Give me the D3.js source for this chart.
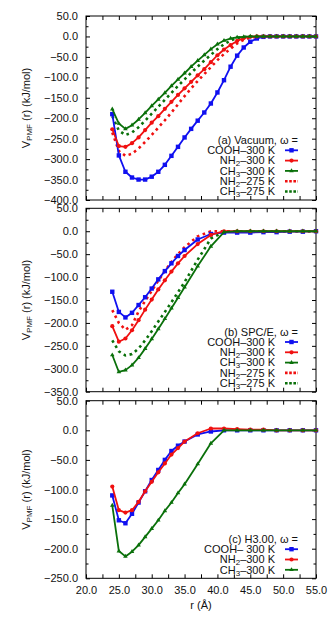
<!DOCTYPE html>
<html>
<head>
<meta charset="utf-8">
<script src="https://cdn.jsdelivr.net/npm/d3@7"></script>
<style>
  body { margin: 0; background: #fff; }
  svg { display: block; font-family: "Liberation Sans", Arial, sans-serif; }
</style>
</head>
<body>
<svg id="chart" width="334" height="631"></svg>
<script>
// r grid (Angstrom) for each panel
var rVacuum = [24,25,26,27,28,29,30,31,32,33,34,35,36,37,38,39,40,41,42,43,44,45,46,47,48,49,50,51,52,53,54,55];
var rWater  = [24,25,26,27,28,29,30,31,32,33,34,35,37,39,41,43,45,47,49,51,53,55];

// (a) Vacuum
var vacCOOH300 = [-190,-291,-331,-345,-350,-350,-343,-331,-314,-292,-270,-247,-226,-206,-186,-164,-137,-107,-74,-47,-27,-13,-5,-1,0,0,0,0,0,0,0,0];
var vacNH2300  = [-227,-268,-270,-261,-247,-229,-211,-195,-177,-160,-143,-127,-111,-95,-80,-63,-46,-32,-21,-11,-4,-1,0,0,0,0,0,0,0,0,0,0];
var vacCH3300  = [-178,-213,-226,-217,-203,-187,-170,-154,-138,-121,-105,-90,-74,-59,-45,-31,-19,-10,-5,-2,-1,0,0,0,0,0,0,0,0,0,0,0];
var vacNH2275  = [-235,-280,-292,-287,-274,-258,-241,-223,-205,-186,-166,-146,-127,-109,-92,-75,-58,-43,-30,-17,-8,-3,-1,0,0,0,0,0,0,0,0,0];
var vacCH3275  = [-195,-230,-241,-235,-222,-206,-189,-172,-155,-138,-121,-105,-89,-74,-59,-45,-31,-19,-10,-4,-1,0,0,0,0,0,0,0,0,0,0,0];

// (b) SPC/E
var spcCOOH300 = [-132,-176,-188,-178,-161,-144,-125,-105,-87,-70,-54,-41,-18,-6,-3,-3,-3,-2,-2,-1,-1,0];
var spcNH2300  = [-207,-241,-234,-216,-194,-171,-149,-127,-107,-88,-70,-54,-28,-8,0,0,0,0,0,0,0,0];
var spcCH3300  = [-270,-307,-303,-292,-276,-256,-235,-213,-191,-168,-145,-122,-76,-33,-2,0,0,0,0,0,0,0];
var spcNH2275  = [-172,-200,-215,-205,-175,-152,-130,-108,-87,-67,-50,-35,-11,0,0,0,0,0,0,0,0,0];
var spcCH3275  = [-238,-262,-271,-268,-256,-238,-218,-197,-176,-155,-133,-111,-62,-16,-1,0,0,0,0,0,0,0];

// (c) H3.00
var h3COOH300 = [-110,-152,-157,-141,-122,-103,-84,-67,-50,-35,-26,-19,-7,-2,0,0,0,0,0,0,0,0];
var h3NH2300  = [-95,-135,-139,-135,-121,-103,-87,-71,-56,-41,-30,-19,-5,3,3,2,1,1,0,0,0,0];
var h3CH3300  = [-127,-204,-213,-205,-194,-180,-166,-152,-136,-122,-106,-91,-57,-22,0,0,0,0,0,0,0,0];

// tick values
var xTicks = [20,25,30,35,40,45,50,55];
var xMinor = [22.5,27.5,32.5,37.5,42.5,47.5,52.5];

// labels: odd parts are subscripts
var labCOOH = ["COOH\u2013300 K"];
var labCOOHc = ["COOH\u2013 300 K"];
var labNH2300 = ["NH", "2", "\u2013300 K"];
var labCH3300 = ["CH", "3", "\u2013300 K"];
var labNH2275 = ["NH", "2", "\u2013275 K"];
var labCH3275 = ["CH", "3", "\u2013275 K"];

var blue = "#1010f0", red = "#f01010", green = "#0a700a";

var panels = [
  {title: "(a) Vacuum, \u03c9 =", top: 16, bottom: 200, yMin: -400, r: rVacuum, series: [
    {lab: labCOOH, color: blue, marker: "square", v: vacCOOH300},
    {lab: labNH2300, color: red, marker: "circle", v: vacNH2300},
    {lab: labCH3300, color: green, marker: "triangle", v: vacCH3300},
    {lab: labNH2275, color: red, dotted: true, v: vacNH2275},
    {lab: labCH3275, color: green, dotted: true, v: vacCH3275}]},
  {title: "(b) SPC/E, \u03c9 =", top: 208.3, bottom: 391.7, yMin: -350, r: rWater, series: [
    {lab: labCOOH, color: blue, marker: "square", v: spcCOOH300},
    {lab: labNH2300, color: red, marker: "circle", v: spcNH2300},
    {lab: labCH3300, color: green, marker: "triangle", v: spcCH3300},
    {lab: labNH2275, color: red, dotted: true, v: spcNH2275},
    {lab: labCH3275, color: green, dotted: true, v: spcCH3275}]},
  {title: "(c) H3.00, \u03c9 =", top: 400.7, bottom: 578.3, yMin: -250, r: rWater, xLabels: true, series: [
    {lab: labCOOHc, color: blue, marker: "square", v: h3COOH300},
    {lab: labNH2300, color: red, marker: "circle", v: h3NH2300},
    {lab: labCH3300, color: green, marker: "triangle", v: h3CH3300}]}
];

var svg = d3.select("#chart"),
    left = 86, right = 316;

var x = d3.scaleLinear().domain([20, 55]).range([left, right]);

function fmt(d) {
  return d3.format(".1f")(d).replace("-", "\u2212");
}

function drawMarker(g, type, color, cx, cy) {
  if (type == "square") {
    g.append("rect").attr("x", cx - 2.2).attr("y", cy - 2.2)
      .attr("width", 4.4).attr("height", 4.4).attr("fill", color);
  } else if (type == "circle") {
    g.append("circle").attr("cx", cx).attr("cy", cy).attr("r", 2.1).attr("fill", color);
  } else if (type == "triangle") {
    g.append("path").attr("d", d3.symbol(d3.symbolTriangle, 9)())
      .attr("transform", "translate(" + cx + "," + cy + ")").attr("fill", color);
  }
}

function addLabel(text, parts) {
  parts.forEach(function(p, i) {
    var t = text.append("tspan").text(p);
    if (i % 2 == 1) t.attr("font-size", 8).attr("baseline-shift", "-25%");
  });
}

panels.forEach(function(p) {
  var y = d3.scaleLinear().domain([p.yMin, 50]).range([p.bottom, p.top]);
  var yMajor = d3.range(p.yMin, 50.1, 50);
  var yMinor = d3.range(p.yMin + 25, 50, 50);
  var g = svg.append("g");

  // frame
  g.append("rect")
    .attr("x", left).attr("y", p.top)
    .attr("width", right - left).attr("height", p.bottom - p.top)
    .attr("fill", "none").attr("stroke", "#000").attr("stroke-width", 1);

  // left axis with labels
  var ly = g.append("g").attr("transform", "translate(" + left + ",0)")
    .call(d3.axisLeft(y).tickValues(yMajor).tickFormat(fmt).tickSizeInner(-4).tickSizeOuter(0).tickPadding(8));
  ly.select(".domain").remove();
  ly.selectAll("text").attr("font-size", 11).attr("font-family", "Liberation Sans, Arial, sans-serif").attr("fill", "#111");

  [[d3.axisLeft, left, yMinor, -2.5], [d3.axisRight, right, yMajor, -4], [d3.axisRight, right, yMinor, -2.5]].forEach(function(a) {
    var ax = g.append("g").attr("transform", "translate(" + a[1] + ",0)")
      .call(a[0](y).tickValues(a[2]).tickFormat("").tickSizeInner(a[3]).tickSizeOuter(0));
    ax.select(".domain").remove();
  });

  [[d3.axisTop, p.top, xTicks, -4], [d3.axisTop, p.top, xMinor, -4], [d3.axisBottom, p.bottom, xMinor, -4]].forEach(function(a) {
    var ax = g.append("g").attr("transform", "translate(0," + a[1] + ")")
      .call(a[0](x).tickValues(a[2]).tickFormat("").tickSizeInner(a[3]).tickSizeOuter(0));
    ax.select(".domain").remove();
  });

  var bx = g.append("g").attr("transform", "translate(0," + p.bottom + ")")
    .call(d3.axisBottom(x).tickValues(xTicks).tickFormat(p.xLabels ? fmt : "").tickSizeInner(-4).tickSizeOuter(0).tickPadding(8));
  bx.select(".domain").remove();
  bx.selectAll("text").attr("font-size", 11).attr("font-family", "Liberation Sans, Arial, sans-serif").attr("fill", "#111");

  // y label
  var yl = g.append("text")
    .attr("transform", "translate(30," + ((p.top + p.bottom) / 2) + ") rotate(-90)")
    .attr("text-anchor", "middle").attr("font-size", 11).attr("fill", "#111");
  yl.append("tspan").text("V");
  yl.append("tspan").text("PMF").attr("font-size", 8).attr("baseline-shift", "-25%");
  yl.append("tspan").text(" (r) (kJ/mol)");

  var line = d3.line()
    .x(function(d) { return x(d[0]); })
    .y(function(d) { return y(d[1]); });

  // draw dotted series first, then solid ones
  var order = p.series.slice().sort(function(a, b) { return (b.dotted ? 1 : 0) - (a.dotted ? 1 : 0); });
  order.forEach(function(s) {
    var pts = p.r.map(function(r, i) { return [r, s.v[i]]; });
    var path = g.append("path").datum(pts)
      .attr("fill", "none").attr("stroke", s.color).attr("d", line);
    if (s.dotted) {
      path.attr("stroke-width", 2.6).attr("stroke-dasharray", "2.6 3.6");
    } else {
      path.attr("stroke-width", 1.8).attr("stroke-linejoin", "round");
      pts.forEach(function(d) { drawMarker(g, s.marker, s.color, x(d[0]), y(d[1])); });
    }
  });

  // legend
  var n = p.series.length, step = 10.3;
  var y0 = p.bottom - 8.5 - n * step;
  g.append("text").attr("x", 298).attr("y", y0).attr("dy", "0.35em")
    .attr("text-anchor", "end").attr("font-size", 11).attr("fill", "#111").text(p.title);
  p.series.forEach(function(s, i) {
    var ry = y0 + (i + 1) * step;
    var t = g.append("text").attr("x", 275).attr("y", ry).attr("dy", "0.35em")
      .attr("text-anchor", "end").attr("font-size", 11).attr("fill", "#111");
    addLabel(t, s.lab);
    var ln = g.append("line").attr("x1", 285).attr("x2", 298).attr("y1", ry).attr("y2", ry)
      .attr("stroke", s.color);
    if (s.dotted) {
      ln.attr("stroke-width", 2.6).attr("stroke-dasharray", "2.6 1.6");
    } else {
      ln.attr("stroke-width", 1.8);
      drawMarker(g, s.marker, s.color, 291.5, ry);
    }
  });
});

// x axis label
svg.append("text").attr("x", (left + right) / 2).attr("y", 609)
  .attr("text-anchor", "middle").attr("font-size", 11).attr("fill", "#111").text("r (\u00c5)");
</script>
</body>
</html>
